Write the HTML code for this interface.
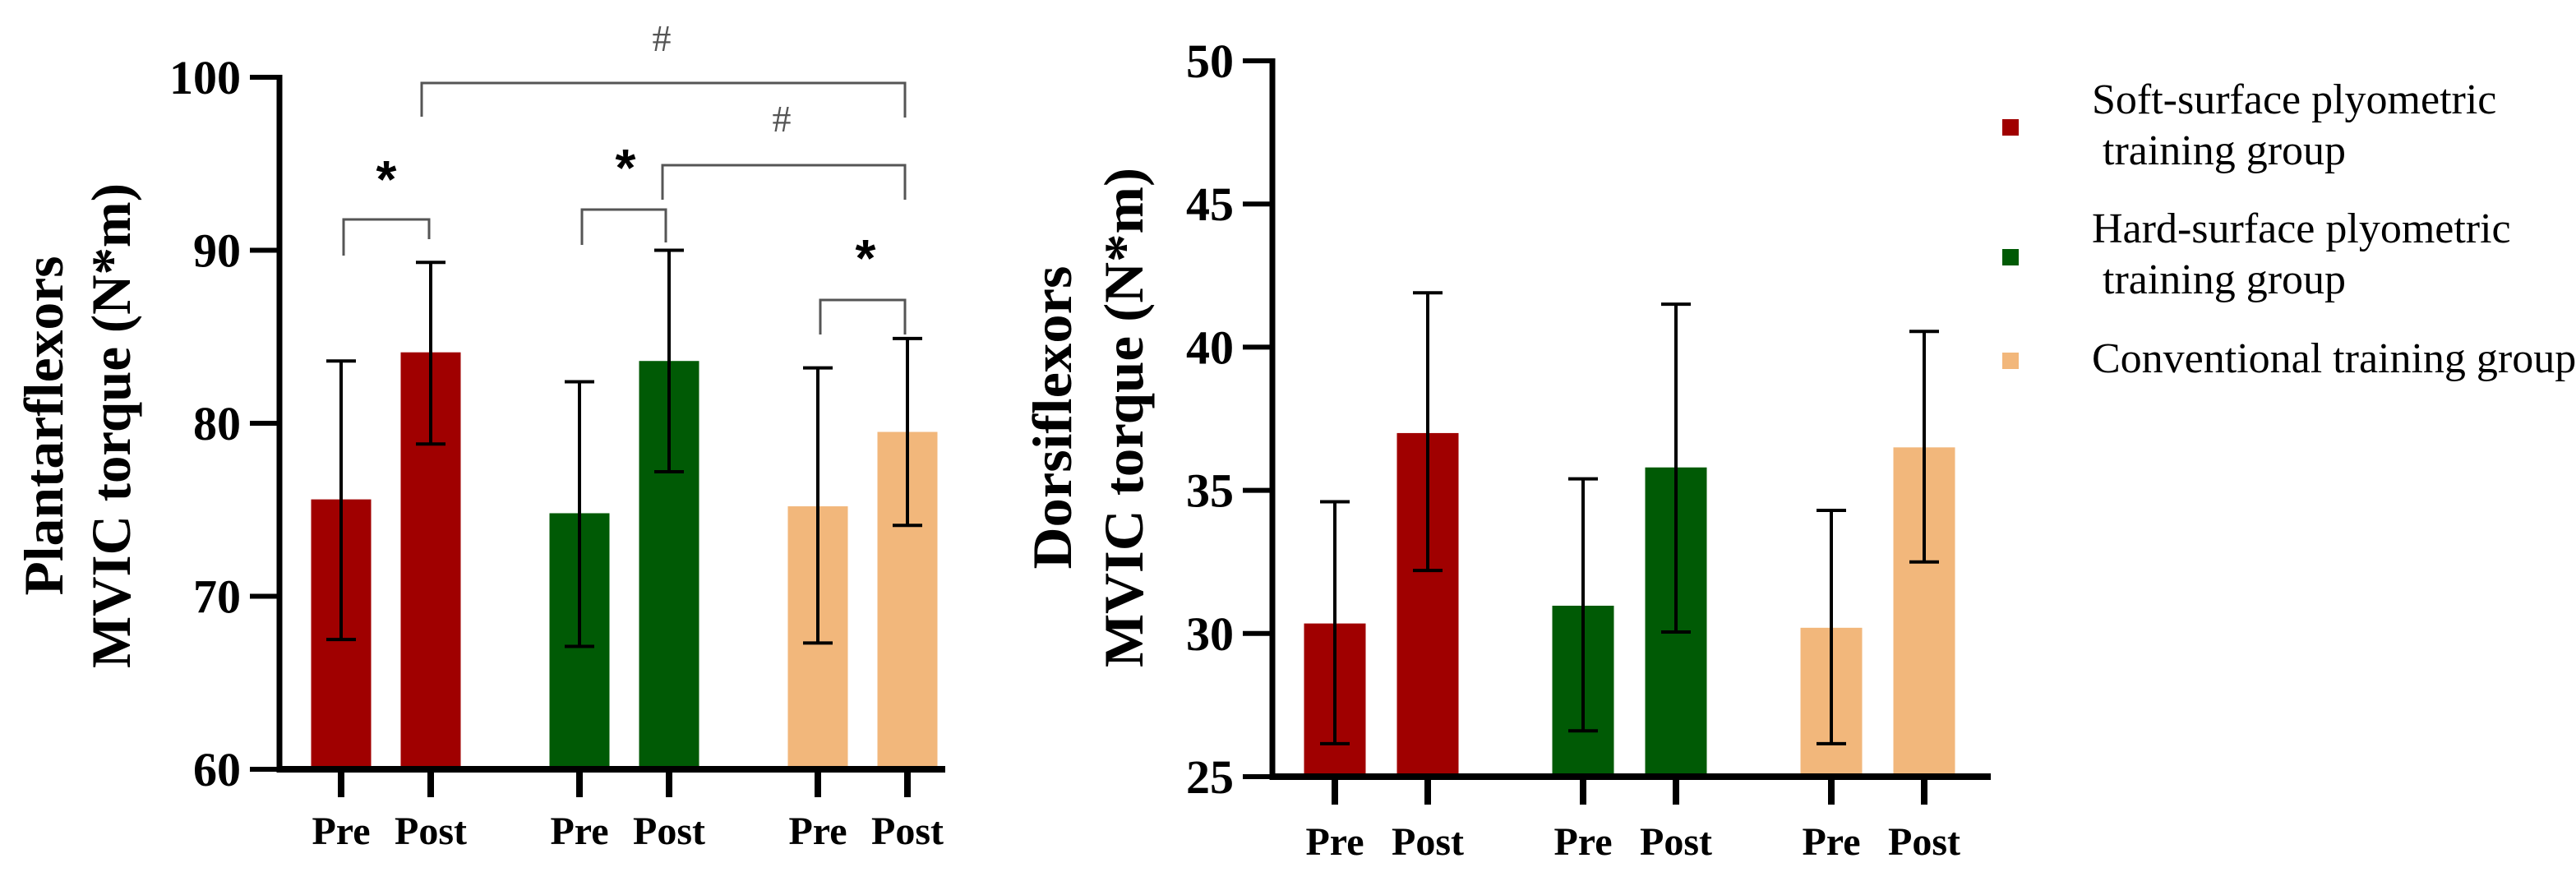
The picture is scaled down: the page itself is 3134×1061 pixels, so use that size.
<!DOCTYPE html>
<html><head><meta charset="utf-8"><style>
html,body{margin:0;padding:0;background:#fff;}
svg{display:block;}
</style></head><body>
<svg id="chart" width="3134" height="1061" viewBox="0 0 3134 1061" xmlns="http://www.w3.org/2000/svg" font-family="'Liberation Serif', serif">
<g id="left"></g>
<g id="right"></g>
<g id="legend"></g>
</svg>
<script>
const categories = ["Pre","Post","Pre","Post","Pre","Post"];
const groupNames = ["Soft-surface plyometric","Hard-surface plyometric","Conventional training group"];
const colors = ["#a00000","#005a05","#f2b77b"];
const leftMeans = [75.6, 84.1, 74.8, 83.6, 75.2, 79.5];
const leftUpper = [83.6, 89.3, 82.4, 90.0, 83.2, 84.9];
const leftLower = [67.5, 78.8, 67.1, 77.2, 67.3, 74.1];
const leftTicks = [60, 70, 80, 90, 100];
const rightMeans = [30.35, 37.0, 30.97, 35.8, 30.2, 36.5];
const rightUpper = [34.6, 41.9, 35.4, 41.5, 34.3, 40.55];
const rightLower = [26.15, 32.2, 26.6, 30.05, 26.15, 32.5];
const rightTicks = [25, 30, 35, 40, 45, 50];

const NS = "http://www.w3.org/2000/svg";
function mk(parent, tag, attrs, text){
  const e = document.createElementNS(NS, tag);
  for (const k in attrs) e.setAttribute(k, attrs[k]);
  if (text !== undefined) e.textContent = text;
  parent.appendChild(e);
  return e;
}

function drawPanel(g, cfg){
  const y = v => cfg.yBottom - (v - cfg.yMin) / (cfg.yMax - cfg.yMin) * (cfg.yBottom - cfg.yTop);
  const x = i => cfg.x0 + Math.floor(i/2)*cfg.groupStep + (i%2)*cfg.pairStep;
  // bars
  cfg.means.forEach((m,i)=>{
    const r = mk(g,'rect',{x:x(i)-cfg.barW/2, y:y(m), width:cfg.barW, height:cfg.yBottom-y(m), fill:colors[Math.floor(i/2)]});
    
    
  });
  // error bars
  cfg.means.forEach((m,i)=>{
    const eg = mk(g,'g',{stroke:'#000','stroke-width':4});
    
    
    mk(eg,'line',{x1:x(i),x2:x(i),y1:y(cfg.upper[i]),y2:y(cfg.lower[i])});
    mk(eg,'line',{x1:x(i)-18,x2:x(i)+18,y1:y(cfg.upper[i]),y2:y(cfg.upper[i])});
    mk(eg,'line',{x1:x(i)-18,x2:x(i)+18,y1:y(cfg.lower[i]),y2:y(cfg.lower[i])});
  });
  // axes
  const ya = mk(g,'line',{x1:cfg.axisX,x2:cfg.axisX,y1:cfg.yTop-3,y2:cfg.yBottom+4,stroke:'#000','stroke-width':7});
   
  const xa = mk(g,'line',{x1:cfg.axisX-3,x2:cfg.axisEnd,y1:cfg.yBottom,y2:cfg.yBottom,stroke:'#000','stroke-width':8});
   
  cfg.ticks.forEach(t=>{
    mk(g,'line',{x1:cfg.axisX-36,x2:cfg.axisX,y1:y(t),y2:y(t),stroke:'#000','stroke-width':6});
    const tl = mk(g,'text',{x:cfg.axisX-47,y:y(t)+20,'text-anchor':'end','font-size':58,'font-weight':'bold'}, String(t));
     
  });
  categories.forEach((c,i)=>{
    mk(g,'line',{x1:x(i),x2:x(i),y1:cfg.yBottom,y2:cfg.yBottom+34,stroke:'#000','stroke-width':8});
    const xl = mk(g,'text',{x:x(i),y:cfg.labelY,'text-anchor':'middle','font-size':48,'font-weight':'bold'}, c);
     
  });
  // titles
  const t1 = mk(g,'text',{transform:`translate(${cfg.t1x},${cfg.tcy}) rotate(-90)`,'text-anchor':'middle','font-size':68,'font-weight':'bold',textLength:cfg.t1len,lengthAdjust:'spacingAndGlyphs'}, cfg.title1);
   
  const t2 = mk(g,'text',{transform:`translate(${cfg.t2x},${cfg.tcy}) rotate(-90)`,'text-anchor':'middle','font-size':68,'font-weight':'bold',textLength:cfg.t2len,lengthAdjust:'spacingAndGlyphs'}, cfg.title2);
   
  return {x, y};
}

const L = drawPanel(document.getElementById('left'), {
  means:leftMeans, upper:leftUpper, lower:leftLower, ticks:leftTicks,
  yMin:60, yMax:100, yTop:94, yBottom:936, x0:415, groupStep:290, pairStep:109, barW:73,
  axisX:340, axisEnd:1150, labelY:1027,
  title1:'Plantarflexors', title2:'MVIC torque (N*m)', t1x:76, t2x:158, tcy:518, t1len:413, t2len:590
});
drawPanel(document.getElementById('right'), {
  means:rightMeans, upper:rightUpper, lower:rightLower, ticks:rightTicks,
  yMin:25, yMax:50, yTop:74, yBottom:945, x0:1624, groupStep:302, pairStep:113, barW:75,
  axisX:1548, axisEnd:2422, labelY:1040,
  title1:'Dorsiflexors', title2:'MVIC torque (N*m)', t1x:1303, t2x:1390, tcy:508, t1len:369, t2len:608
});

// significance brackets (left panel)
const lg = document.getElementById('left');
const br = mk(lg,'g',{stroke:'#555','stroke-width':3,fill:'none'});
 
mk(br,'polyline',{points:'418,311 418,267 522,267 522,291'});
mk(br,'polyline',{points:'708,298 708,255 810,255 810,295'});
mk(br,'polyline',{points:'998,407 998,365 1101,365 1101,407'});
mk(br,'polyline',{points:'513,142 513,101 1101,101 1101,143'});
mk(br,'polyline',{points:'806,243 806,201 1101,201 1101,243'});
[[470,240],[761,226],[1053,336]].forEach(p=>{
  const s = mk(lg,'text',{x:p[0],y:p[1],'text-anchor':'middle','font-size':64,'font-weight':'bold','font-family':"'Liberation Sans', sans-serif"}, '*');
   
});
[[805,62],[951,160]].forEach(p=>{
  const h = mk(lg,'text',{x:p[0],y:p[1],'text-anchor':'middle','font-size':46,fill:'#555'}, '#');
   
});

// legend
const leg = document.getElementById('legend');
const legendLines = [["Soft-surface plyometric"," training group"],["Hard-surface plyometric"," training group"],["Conventional training group"]];
const legendY = [[138,200],[295,357],[453]];
const markerY = [155,313,439];
legendLines.forEach((lines,i)=>{
  const e = mk(leg,'g',{});
  
  
  mk(e,'rect',{x:2436,y:markerY[i]-10,width:20,height:20,fill:colors[i]});
  lines.forEach((t,j)=>{
    mk(e,'text',{x:2545,y:legendY[i][j],'font-size':52,'xml:space':'preserve'}, t.replace(/^ /,'\u00a0'));
  });
});
</script>
</body></html>
